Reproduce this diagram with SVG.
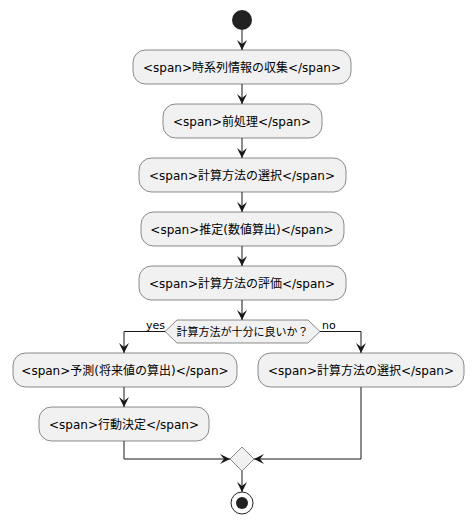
<svg xmlns="http://www.w3.org/2000/svg" width="474" height="523" viewBox="0 0 474 523">
<defs>
<style>
.n{fill:#F1F1F1;stroke:#181818;stroke-width:0.5}
.t{font-family:"DejaVu Sans","Noto Sans CJK JP",sans-serif;font-size:12px;fill:#000;text-anchor:middle}
.l{font-family:"DejaVu Sans","Noto Sans CJK JP",sans-serif;font-size:11px;fill:#000}
.c{fill:none;stroke:#181818;stroke-width:1}
</style>
<marker id="a" viewBox="0 0 10 10" refX="10" refY="5" markerWidth="10" markerHeight="10" markerUnits="userSpaceOnUse" orient="auto">
<path d="M0,0 L10,5 L0,10 L4,5 Z" fill="#181818"/>
</marker>
</defs>
<rect width="474" height="523" fill="#FFFFFF"/>
<g id="start"><circle cx="242" cy="20" r="10" fill="#222222"/></g>
<g id="n1"><rect class="n" x="133" y="50" width="218" height="34" rx="12.5"/><text class="t" x="242" y="71.5">&lt;span&gt;時系列情報の収集&lt;/span&gt;</text></g>
<g id="n2"><rect class="n" x="163" y="104" width="159" height="34" rx="12.5"/><text class="t" x="242" y="125.5">&lt;span&gt;前処理&lt;/span&gt;</text></g>
<g id="n3"><rect class="n" x="139" y="158" width="207" height="34" rx="12.5"/><text class="t" x="242" y="179.5">&lt;span&gt;計算方法の選択&lt;/span&gt;</text></g>
<g id="n4"><rect class="n" x="141" y="212" width="203" height="34" rx="12.5"/><text class="t" x="242" y="233.5">&lt;span&gt;推定(数値算出)&lt;/span&gt;</text></g>
<g id="n5"><rect class="n" x="139" y="266" width="207" height="34" rx="12.5"/><text class="t" x="242" y="287.5">&lt;span&gt;計算方法の評価&lt;/span&gt;</text></g>
<g id="d1"><polygon class="n" points="165,331.5 177,320 308,320 320,331.5 308,343 177,343"/><text class="t" x="242.5" y="335.5" style="font-size:11px">計算方法が十分に良いか？</text></g>
<g id="n6"><rect class="n" x="13" y="353" width="224" height="34" rx="12.5"/><text class="t" x="125" y="374.5">&lt;span&gt;予測(将来値の算出)&lt;/span&gt;</text></g>
<g id="n7"><rect class="n" x="258" y="353" width="206" height="34" rx="12.5"/><text class="t" x="361" y="374.5">&lt;span&gt;計算方法の選択&lt;/span&gt;</text></g>
<g id="n8"><rect class="n" x="39" y="407" width="170" height="34" rx="12.5"/><text class="t" x="124" y="428.5">&lt;span&gt;行動決定&lt;/span&gt;</text></g>
<g id="merge"><polygon class="n" points="242,447 254,459 242,471 230,459"/></g>
<g id="end"><circle cx="242" cy="503" r="11" fill="none" stroke="#222222" stroke-width="1"/><circle cx="242" cy="503" r="6" fill="#222222"/></g>
<g id="connectors">
<path class="c" d="M242,30 L242,50" marker-end="url(#a)"/>
<path class="c" d="M242,84 L242,104" marker-end="url(#a)"/>
<path class="c" d="M242,138 L242,158" marker-end="url(#a)"/>
<path class="c" d="M242,192 L242,212" marker-end="url(#a)"/>
<path class="c" d="M242,246 L242,266" marker-end="url(#a)"/>
<path class="c" d="M242,300 L242,320" marker-end="url(#a)"/>
<path class="c" d="M165,331.5 L124,331.5 L124,353" marker-end="url(#a)"/>
<path class="c" d="M320,331.5 L361,331.5 L361,353" marker-end="url(#a)"/>
<path class="c" d="M124,387 L124,407" marker-end="url(#a)"/>
<path class="c" d="M124,441 L124,459 L230,459" marker-end="url(#a)"/>
<path class="c" d="M361,387 L361,459 L254,459" marker-end="url(#a)"/>
<path class="c" d="M242,471 L242,492" marker-end="url(#a)"/>
<text class="l" x="146" y="328.5">yes</text>
<text class="l" x="322" y="328.5">no</text>
</g>
</svg>
